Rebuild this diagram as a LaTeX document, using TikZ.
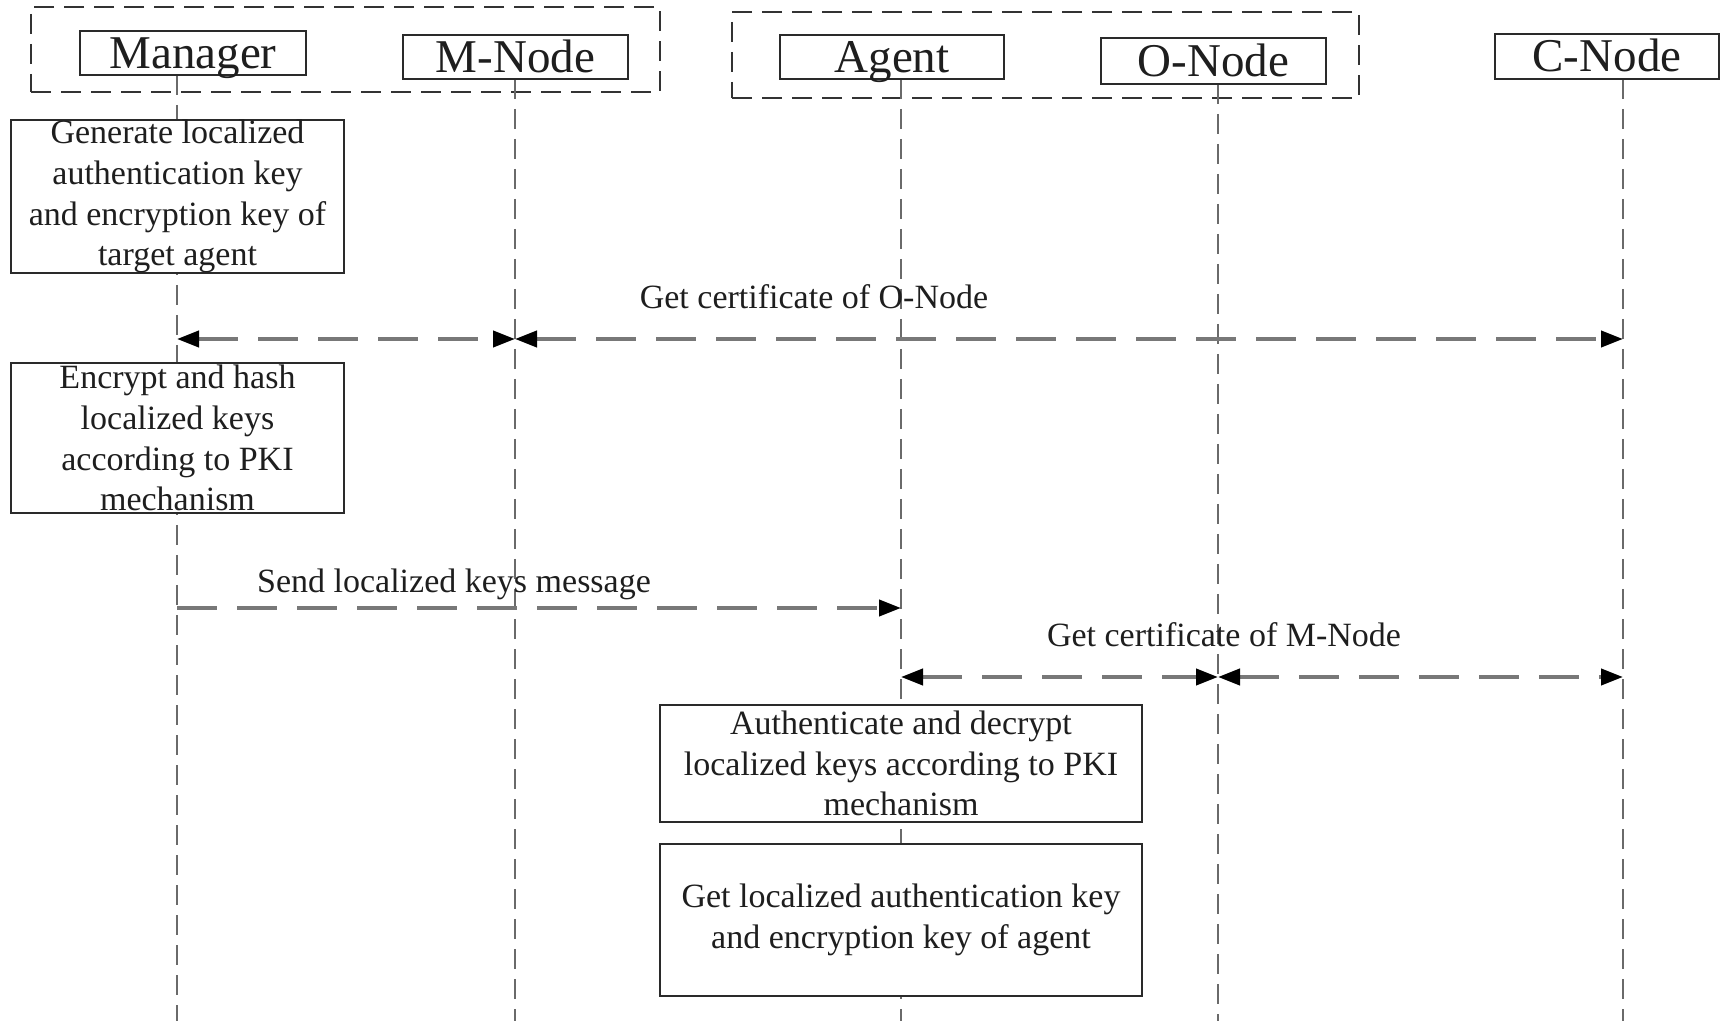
\documentclass[tikz,border=0pt]{standalone}
\usepackage{fontspec}
\setmainfont{Liberation Serif}
\usetikzlibrary{arrows.meta}
\definecolor{lifec}{HTML}{6A6A6A}
\definecolor{arrc}{HTML}{787878}
\definecolor{boxc}{HTML}{2A2A2A}
\definecolor{txtc}{HTML}{1E1E1E}
\begin{document}
\begin{tikzpicture}[x=0.5pt,y=-0.5pt,
  actor/.style={draw=boxc, line width=1.2pt, fill=white, inner sep=0pt, text=txtc,
    text height=15.5pt, text depth=0pt,
    font=\fontsize{23.5}{28}\selectfont},
  actbox/.style={draw=boxc, line width=1.1pt, fill=white, inner sep=0pt, align=center, text=txtc,
    font=\fontsize{17}{20.4}\selectfont},
  grp/.style={draw=black!80, line width=1.4pt, dash pattern=on 10pt off 5pt, inner sep=0pt},
  life/.style={draw=lifec, line width=1.4pt, dash pattern=on 10pt off 5pt},
  msg/.style={draw=arrc, line width=2pt, dash pattern=on 20pt off 10pt},
  lbl/.style={text=txtc, inner sep=0pt, font=\fontsize{17}{20.4}\selectfont}
]
\useasboundingbox (0,0) rectangle (1725,1021);

% group boxes
\node[grp, minimum width=314.5pt, minimum height=42.5pt] (g1) at (345.5,49.5) {};
\node[grp, minimum width=313.5pt, minimum height=43pt] (g2) at (1045.5,55) {};

% lifeline coordinates
\coordinate (lm0) at (177,75);   \coordinate (lm1) at (177,1021);
\coordinate (ln0) at (515,79);   \coordinate (ln1) at (515,1021);
\coordinate (la0) at (901,79);   \coordinate (la1) at (901,1021);
\coordinate (lo0) at (1218,84);  \coordinate (lo1) at (1218,1021);
\coordinate (lc0) at (1623,79);  \coordinate (lc1) at (1623,1021);

\draw[life] (lm0) -- (lm1);
\draw[life] (ln0) -- (ln1);
\draw[life] (la0) -- (la1);
\draw[life] (lo0) -- (lo1);
\draw[life] (lc0) -- (lc1);

% actors
\node[actor, minimum width=113pt, minimum height=22pt] (man) at (193,53) {Manager};
\node[actor, minimum width=112.5pt, minimum height=22pt] (mnode) at (515.5,57) {M-Node};
\node[actor, minimum width=112pt, minimum height=22pt] (agent) at (892,57) {Agent};
\node[actor, minimum width=112.5pt, minimum height=23pt] (onode) at (1213.5,61) {O-Node};
\node[actor, minimum width=112pt, minimum height=22.5pt] (cnode) at (1607,56.5) {C-Node};

% action boxes
\node[actbox, minimum width=166.5pt, minimum height=75.5pt] (gen) at (177.5,196.5)
  {Generate localized\\authentication key\\and encryption key of\\target agent};
\node[actbox, minimum width=166.5pt, minimum height=75pt] (enc) at (177.5,438)
  {Encrypt and hash\\localized keys\\according to PKI\\mechanism};
\node[actbox, minimum width=241pt, minimum height=58.5pt] (auth) at (901,763.5)
  {Authenticate and decrypt\\localized keys according to PKI\\mechanism};
\node[actbox, minimum width=241pt, minimum height=76pt] (getk) at (901,920)
  {Get localized authentication key\\and encryption key of agent};

% message coordinates
\coordinate (m1a) at (177,339);
\coordinate (m1b) at (515,339);
\coordinate (m1c) at (1623,339);
\coordinate (m2a) at (177,608);
\coordinate (m2b) at (901,608);
\coordinate (m3a) at (901,677);
\coordinate (m3b) at (1218,677);
\coordinate (m3c) at (1623,677);

\draw[msg, {Triangle[length=11pt,width=8pt,black]}-{Triangle[length=11pt,width=8pt,black]}] (m1a) -- (m1b);
\draw[msg, {Triangle[length=11pt,width=8pt,black]}-{Triangle[length=11pt,width=8pt,black]}] (m1b) -- (m1c);
\draw[msg, -{Triangle[length=11pt,width=8pt,black]}] (m2a) -- (m2b);
\draw[msg, {Triangle[length=11pt,width=8pt,black]}-{Triangle[length=11pt,width=8pt,black]}] (m3a) -- (m3b);
\draw[msg, {Triangle[length=11pt,width=8pt,black]}-{Triangle[length=11pt,width=8pt,black]}] (m3b) -- (m3c);

% labels
\node[lbl] (l1) at (814,297) {Get certificate of O-Node};
\node[lbl] (l2) at (454,584) {Send localized keys message};
\node[lbl] (l3) at (1224,635) {Get certificate of M-Node};
\end{tikzpicture}
\end{document}
